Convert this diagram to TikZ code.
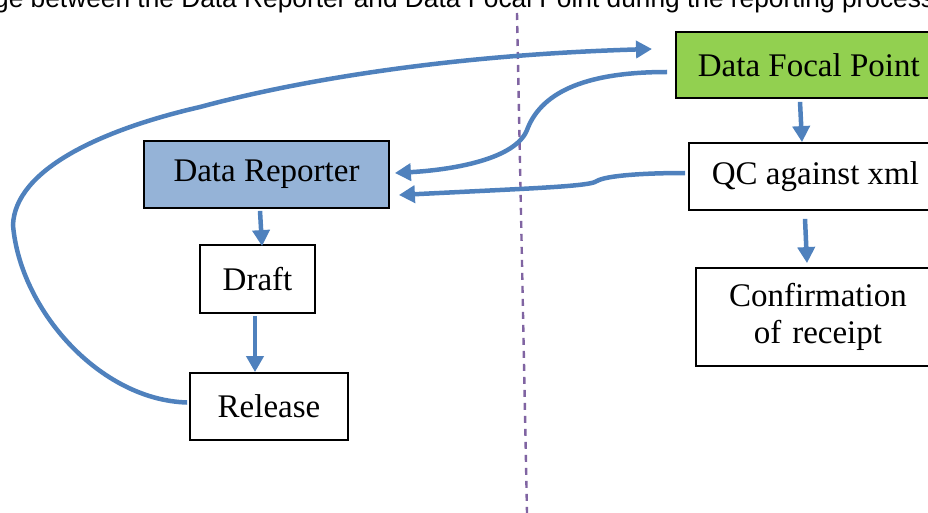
\documentclass[tikz,border=0pt]{standalone}
\usepackage{fontspec}
\setmainfont{Liberation Serif}
\newfontfamily\titlefont{Liberation Sans}
\usetikzlibrary{arrows.meta}
\definecolor{flowblue}{HTML}{4F81BD}
\definecolor{repblue}{HTML}{95B3D7}
\definecolor{focgreen}{HTML}{92D050}
\definecolor{divpurple}{HTML}{8064A2}
\begin{document}
\begin{tikzpicture}[x=1pt,y=-1pt,
  box/.style={draw=black,line width=1.8pt,rectangle,font=\fontsize{33}{39}\selectfont,inner ysep=0pt},
  flow/.style={draw=flowblue,line width=4.5pt,-{Triangle[length=16pt,width=17pt]}},
]
\useasboundingbox (0,0) rectangle (928,513);
% title (cropped at top, as in the reference)
\node[anchor=base west,inner sep=0pt,font=\titlefont\fontsize{26.3}{31}\selectfont] (title) at (-6,8) {ge between the Data Reporter and Data Focal Point during the reporting process};
% divider
\draw[divpurple,line width=2.4pt,dash pattern=on 7pt off 6pt] (517,13) coordinate (dtop) -- (527,513) coordinate (dbot);
% boxes
\node[box,fill=focgreen,anchor=west,minimum height=66pt,inner xsep=22pt,align=left] (dfp) at (675,65) {Data Focal Point\hspace{30pt}};
\node[box,fill=white,anchor=west,minimum height=67pt,inner xsep=23pt,align=left] (qc) at (688,176.5) {QC against xml\hspace{30pt}};
\node[box,fill=white,anchor=west,minimum height=98pt,inner xsep=0pt,text width=244pt,align=center,font=\fontsize{33}{37}\selectfont] (conf) at (695,317) {Confirmation\\of receipt};
\node[box,fill=repblue,minimum width=245pt,minimum height=67pt] (dr) at (266.5,174.5) {Data Reporter};
\node[box,fill=white,minimum width=115pt,minimum height=68pt] (draft) at (257.5,279) {Draft};
\node[box,fill=white,minimum width=158pt,minimum height=67pt] (rel) at (269,406.5) {Release};
% long connectors
\draw[flow] ([xshift=-2pt,yshift=4pt]rel.west) .. controls (100,400) and (20,310) .. (13,225)
  .. controls (15,170) and (100,130) .. (200,107)
  .. controls (300,80) and (450,55) .. ([xshift=-23pt,yshift=16pt]dfp.west);
\draw[flow] ([xshift=-8pt,yshift=-7pt]dfp.west) .. controls (580,72) and (540,95) .. (527,130)
  .. controls (515,160) and (450,170) .. ([xshift=5pt,yshift=1.5pt]dr.east);
\draw[flow] ([xshift=-3pt,yshift=3.5pt]qc.west) .. controls (640,173) and (605,176) .. (597,181)
  .. controls (592,185) and (560,187) .. (500,190) -- ([xshift=9pt,yshift=-20.5pt]dr.east);
% short connectors
\draw[flow] ([xshift=-6.5pt,yshift=-2pt]dr.south) -- ([xshift=4.5pt,yshift=-2pt]draft.north);
\draw[flow] ([xshift=-2.5pt,yshift=-2pt]draft.south) -- ([xshift=-14pt,yshift=0pt]rel.north);
\draw[flow] ([xshift=125pt,yshift=-3pt]dfp.south west) -- ([xshift=114pt,yshift=0pt]qc.north west);
\draw[flow] ([xshift=117pt,yshift=-8pt]qc.south west) -- ([xshift=112pt,yshift=4pt]conf.north west);
\end{tikzpicture}
\end{document}
